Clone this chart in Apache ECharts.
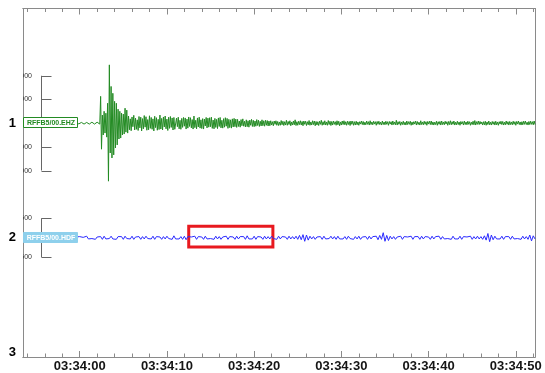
<!DOCTYPE html>
<html>
<head>
<meta charset="utf-8">
<script src="https://cdn.jsdelivr.net/npm/echarts@6/dist/echarts.min.js"></script>
<style>
  html, body { margin: 0; padding: 0; background: #fff; }
  #chart { width: 545px; height: 373px; }
</style>
</head>
<body>
<div id="chart"></div>
<script>
// Time window, seconds relative to 03:34:00
const windowStart = -6.5;
const windowEnd = 52.2;
const baseClock = 3 * 3600 + 34 * 60;
const timeTicks = [0, 10, 20, 30, 40, 50];
const minorTicks = [-6, -4, -2, 0, 2, 4, 6, 8, 10, 12, 14, 16, 18, 20, 22, 24, 26, 28, 30,
  32, 34, 36, 38, 40, 42, 44, 46, 48, 50, 52];
const trackLabels = [1, 2, 3];

// Sample timing per channel
const ehzStart = -0.4;
const ehzStep = 0.1;
const hdfStart = -0.4;
const hdfStep = 0.2;

// RFFB5/00.EHZ counts
const ehzPre = [30, -20, 40, -30, 10, -40, 30, -10, 20, -40,
  40, -20, 30, -30, 20, -40, 10, -30, 40, -20,
  30, -40, 20, -10, 40, -30, 20, -40];
const ehzEvent = [1130, -1100, 340, -500, 500, -420, 420, -590, 840, -2450,
  2460, -1260, 1550, -1470, 1260, -1340, 920, -1050, 840, -920,
  590, -670, 500, -630, 420, -500, 380, -460, 630, -380,
  550, -420];
const ehzCodaA = [300, -280, 180, -320, 260, -150, 330, -290, 210, -260,
  140, -310, 280, -200, 250, -330, 190, -240, 320, -170,
  270, -300, 150, -280, 310, -220, 240, -260, 180, -330,
  290, -190, 230, -300, 160, -270, 340, -250, 200, -290,
  260, -160, 300, -240, 170, -310, 250, -220, 280, -180,
  220, -290, 240, -260];
const ehzCodaB = [-230, 210, -150, 250, -240, 120, -260, 200, -180, 240,
  -130, 220, -250, 170, -210, 260, -140, 230, -200, 150,
  -250, 300, -190, 120, -240, 220, -160, 250, -210, 140,
  -230, 190, -250, 170, -120, 240, -200, 210, -170, 230,
  -150, 250, -220, 130, -240, 200, -180, 160, -230, 220,
  -140, 240, -200, 120, -210, 190, -170, 230, -130, 200,
  -220, 160, -190, 140, -210, 180, -160, 200, -150, 170,
  -180];
const ehzCodaC = [160, -140, 90, -170, 150, -110, 180, -130, 80, -160,
  140, -150, 100, -170, 130, -90, 160, -140, 120, -150,
  90, -130, 150, -100, 120, -140, 80, -120, 140, -110,
  100, -130, 120, -90, 110, -120, 90, -110];
const ehzCodaD = [100, -80, 60, -110, 90, -50, 100, -90, 70, -100,
  50, -90, 110, -70, 80, -100, 60, -80, 120, -90,
  70, -60, 100, -110, 50, -80, 90, -70, 140, -100,
  60, -90, 80, -60, 100, -80, 70, -110, 90, -50,
  80, -100, 60, -70, 110, -90, 50, -80, 100, -60,
  90, -110, 70, -80, 60, -100, 80, -50, 120, -90,
  60, -70, 100, -80, 50, -90, 110, -60, 80, -100,
  70, -80, 90, -50, 60, -90, 100, -70, 80, -110,
  50, -80, 90, -60, 100, -70, 60, -90, 80, -60,
  70, -100, 90, -50, 80, -90, 60, -80];
const ehzTail = [80, -70, 50, -90, 60, -40, 90, -60, 70, -80,
  40, -70, 90, -50, 60, -80, 100, -60, 50, -70,
  80, -40, 60, -90, 70, -50, 80, -60, 40, -80,
  90, -60, 50, -70, 80, -50, 60, -90, 70, -40,
  60, -80, 90, -60, 50, -70, 120, -80, 60, -50,
  70, -90, 50, -60, 80, -70, 40, -80, 90, -60,
  60, -50, 80, -90, 50, -70, 60, -40, 90, -80,
  70, -60, 40, -80, 100, -60, 50, -70, 80, -50,
  60, -90, 70, -40, 80, -60, 90, -70, 50, -80,
  40, -60, 80, -90, 60, -50, 70, -80, 90, -60,
  50, -70, 80, -40, 60, -90, 70, -60, 100, -70,
  60, -50, 90, -80, 40, -70, 80, -60, 50, -90,
  70, -40, 60, -80, 90, -60, 50, -70, 80, -50,
  60, -90, 40, -60, 80, -70, 110, -80, 60, -50,
  90, -60, 70, -40, 50, -80, 60, -70, 80, -90,
  50, -60, 90, -70, 40, -80, 70, -50, 60, -80,
  80, -70, 50, -90, 60, -40, 80, -60, 70, -80,
  40, -70, 90, -50, 60, -80, 70, -60, 50, -70,
  80, -50, 60, -90, 70, -40, 90, -60, 50, -80,
  60, -70, 80, -50, 90, -60, 40, -80, 70, -60,
  80, -50, 60, -70, 90, -60];

// RFFB5/00.HDF counts
const hdfValues = [
  20, -30, 30, -20, 10, -30, 40, -30, 20, -20,
  30, -40, 20, -10, 30, -40, 40, -30, 10, -20,
  40, -30, 20, -40, 30, -20, 30, -40, 40, -20,
  20, -30, 40, -40, 20, -10, 30, -40, 30, -30,
  40, -20, 10, -30, 40, -40, 30, -20, 20, -40,
  30, -30, 40, -20, 20, -40, 50, -30, 20, -30,
  30, -40, 40, -50, 30, -20, 20, -30, 40, -40,
  30, -20, 20, -40, 40, -30, 20, -20, 30, -40,
  40, -30, 30, -40, 20, -30, 40, -40, 30, -20,
  20, -40, 40, -30, 30, -20, 30, -40, 50, -30,
  20, -30, 40, -40, 30, -20, 20, -40, 40, -30,
  30, -30, 40, -20, 20, -40, 40, -30, 30, -20,
  20, -40, 40, -30, 30, -30, 40, -40, 60, -50,
  80, -90, 70, -60, 40, -30, 30, -40, 20, -20,
  30, -40, 40, -30, 20, -20, 40, -30, 30, -40,
  40, -30, 20, -30, 30, -40, 40, -20, 20, -40,
  30, -30, 40, -40, 20, -20, 30, -40, 40, -30,
  30, -20, 40, -50, 60, -40, 130, -90, 60, -70,
  40, -30, 30, -40, 20, -30, 40, -40, 30, -20,
  20, -30, 40, -40, 30, -20, 30, -40, 40, -30,
  30, -20, 20, -40, 40, -30, 30, -20, 40, -40,
  30, -30, 20, -20, 30, -40, 40, -30, 20, -30,
  40, -40, 30, -20, 20, -30, 40, -40, 30, -30,
  40, -30, 30, -40, 50, -60, 110, -100, 70, -50,
  40, -30, 20, -30, 40, -40, 30, -20, 30, -40,
  40, -30, 20, -20, 30, -40, 40, -30, 30, -40,
  70, -80, 50, -30];

// Channel layout: name, track, counts per track unit, scale-bar ticks
const channelNames = ['RFFB5/00.EHZ', 'RFFB5/00.HDF'];
const channelTracks = [1, 2];
const countsPerTrack = [4840, 2940];
const ehzScaleTicks = [2000, 1000, -1000, -2000];
const hdfScaleTicks = [500, -500];

// Highlighted window on the HDF channel
const highlightTimes = [12.5, 22.15];
const highlightTrackSpan = [1.9, 2.08];

const ehzCounts = [].concat(ehzPre, ehzEvent, ehzCodaA, ehzCodaB, ehzCodaC, ehzCodaD, ehzTail);
const channelCounts = [ehzCounts, hdfValues];
const channelStart = [ehzStart, hdfStart];
const channelStep = [ehzStep, hdfStep];
const scaleTicks = [ehzScaleTicks, hdfScaleTicks];

const lineColors = ['#238b23', '#2a2aff'];
const axisGray = '#8a8a8a';
const fontStack = '"Liberation Sans", Arial, sans-serif';

function toSeries(ch) {
  const track = channelTracks[ch];
  const k = countsPerTrack[ch];
  const t0 = channelStart[ch];
  const dt = channelStep[ch];
  return channelCounts[ch].map((v, i) => [t0 + i * dt, track - v / k]);
}

function clock(v) {
  const s = Math.round(baseClock + v);
  const hh = String(Math.floor(s / 3600)).padStart(2, '0');
  const mm = String(Math.floor((s % 3600) / 60)).padStart(2, '0');
  const ss = String(s % 60).padStart(2, '0');
  return hh + ':' + mm + ':' + ss;
}

function timeAxis(position, customTicks, len, withLabels) {
  return {
    type: 'value', position: position, min: windowStart, max: windowEnd,
    axisLine: { show: true, onZero: false, lineStyle: { color: axisGray, width: 1 } },
    axisTick: { show: true, inside: true, length: len, customValues: customTicks,
      lineStyle: { color: axisGray, width: 1 } },
    axisLabel: withLabels ? {
      show: true, customValues: timeTicks, formatter: clock, margin: 3,
      fontFamily: fontStack, fontWeight: 'bold', fontSize: 13, color: '#151515'
    } : { show: false },
    splitLine: { show: false }
  };
}

function trackAxis(position, withLabels) {
  return {
    type: 'value', position: position, inverse: true, min: 0, max: 3.04,
    axisLine: { show: true, onZero: false, lineStyle: { color: axisGray, width: 1 } },
    axisTick: { show: false },
    axisLabel: withLabels ? {
      show: true, customValues: trackLabels, margin: 7,
      fontFamily: fontStack, fontWeight: 'bold', fontSize: 13, color: '#000'
    } : { show: false },
    splitLine: { show: false }
  };
}

// Per-channel scale bar and name tag, placed from the track position
function renderChannelDecor(params, api) {
  const ch = api.value(0);
  const track = channelTracks[ch];
  const k = countsPerTrack[ch];
  const origin = api.coord([windowStart, track]);
  const left = origin[0];
  const cy = origin[1];
  const barX = left + 18.5;
  const ticks = scaleTicks[ch];
  const ys = ticks.map(t => api.coord([windowStart, track - t / k])[1]);
  const children = [];
  children.push({
    type: 'line',
    shape: { x1: barX, y1: Math.min.apply(null, ys), x2: barX, y2: Math.max.apply(null, ys) },
    style: { stroke: '#666', lineWidth: 1 }
  });
  ticks.forEach((t, j) => {
    const y = Math.round(ys[j]) + 0.5;
    children.push({
      type: 'line', shape: { x1: barX, y1: y, x2: barX + 10, y2: y },
      style: { stroke: '#666', lineWidth: 1 }
    });
    children.push({
      type: 'text',
      style: { text: String(t), x: left + 9, y: y, align: 'right', verticalAlign: 'middle',
        font: '7px ' + fontStack, fill: '#333' }
    });
  });
  const isFirst = ch === 0;
  const tagTop = Math.round(cy) - 5.5;
  children.push({
    type: 'rect',
    shape: { x: left + 0.5, y: tagTop, width: 54, height: 10 },
    style: isFirst ? { fill: '#fff', stroke: lineColors[0], lineWidth: 1 }
                   : { fill: '#8ed0ec', stroke: '#8ed0ec', lineWidth: 1 }
  });
  children.push({
    type: 'text',
    style: { text: channelNames[ch], x: left + 28, y: tagTop + 5.5, align: 'center', verticalAlign: 'middle',
      font: 'bold 7px ' + fontStack, fill: isFirst ? lineColors[0] : '#fff' }
  });
  return { type: 'group', children: children };
}

const chart = echarts.init(document.getElementById('chart'), null, { renderer: 'canvas' });
chart.setOption({
  animation: false,
  backgroundColor: '#fff',
  grid: { left: 23, right: 10, top: 8.5, bottom: 16, containLabel: false, outerBoundsMode: 'none' },
  xAxis: [
    timeAxis('bottom', timeTicks, 6, true),
    timeAxis('bottom', minorTicks, 3.5, false),
    timeAxis('top', timeTicks, 6, false),
    timeAxis('top', minorTicks, 3.5, false)
  ],
  yAxis: [trackAxis('left', true), trackAxis('right', false)],
  series: [
    {
      type: 'line', name: channelNames[0], data: toSeries(0),
      showSymbol: false, symbol: 'none', clip: true, z: 2,
      lineStyle: { color: lineColors[0], width: 1 }
    },
    {
      type: 'line', name: channelNames[1], data: toSeries(1),
      showSymbol: false, symbol: 'none', clip: true, z: 2,
      lineStyle: { color: lineColors[1], width: 1 },
      markArea: {
        silent: true,
        itemStyle: { color: 'rgba(0,0,0,0)', borderColor: '#e8191f', borderWidth: 3 },
        data: [[
          { xAxis: highlightTimes[0], yAxis: highlightTrackSpan[0] },
          { xAxis: highlightTimes[1], yAxis: highlightTrackSpan[1] }
        ]]
      }
    },
    {
      type: 'custom', clip: true, z: 4,
      data: [[0], [1]],
      renderItem: renderChannelDecor
    }
  ]
});
</script>
</body>
</html>
